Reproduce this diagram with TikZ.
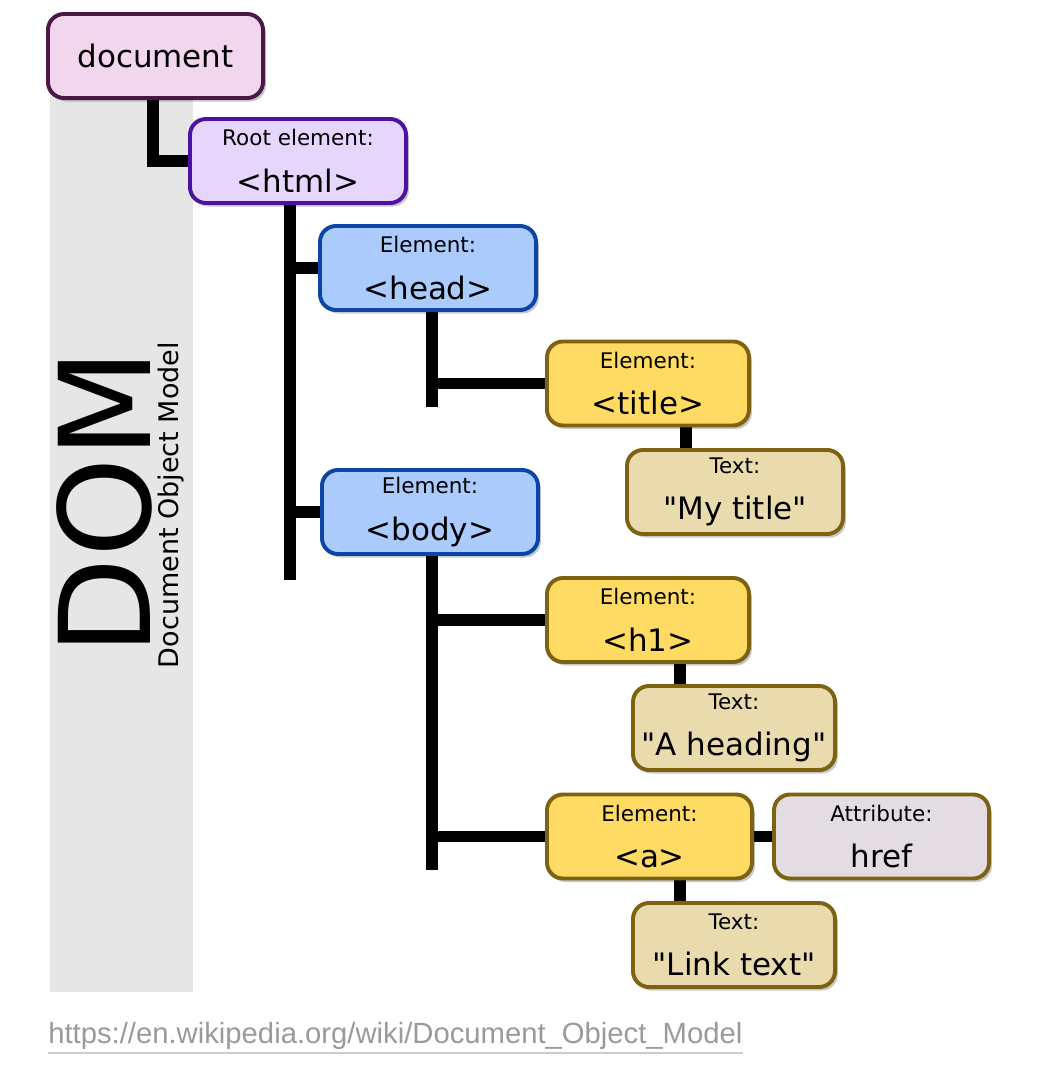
\documentclass[tikz,border=0pt]{standalone}
\usepackage{fontspec}
\setmainfont{DejaVu Sans}
\newfontfamily\urlfont{Liberation Sans}
\usetikzlibrary{positioning, shadows, backgrounds}
\definecolor{cdocfill}{HTML}{F2D6EE}
\definecolor{cdocline}{HTML}{4B1747}
\definecolor{crootfill}{HTML}{E6D6FE}
\definecolor{crootline}{HTML}{4D12A4}
\definecolor{cbluefill}{HTML}{AACBFB}
\definecolor{cblueline}{HTML}{0B46A6}
\definecolor{cyellow}{HTML}{FFDB63}
\definecolor{ctan}{HTML}{E9DBAE}
\definecolor{cattr}{HTML}{E3DCE3}
\definecolor{cbrown}{HTML}{7D6212}
\definecolor{cband}{HTML}{E6E6E6}
\definecolor{curl}{HTML}{9A9A9A}
\newcommand{\lbl}[1]{{\fontsize{15.3}{15.3}\selectfont #1}}
\tikzset{
  box/.style={rounded corners=0.4cm, line width=2.8pt, align=center, inner sep=0pt,
    minimum height=2.1cm, font=\fontsize{22}{33}\selectfont,
    drop shadow={shadow xshift=2pt, shadow yshift=-2.5pt, fill=black, opacity=0.22}},
  docbox/.style={box, draw=cdocline, fill=cdocfill, minimum width=5.375cm},
  rootbox/.style={box, draw=crootline, fill=crootfill, minimum width=5.4cm},
  bluebox/.style={box, draw=cblueline, fill=cbluefill, minimum width=5.4cm},
  elembox/.style={box, draw=cbrown, fill=cyellow, minimum width=5.05cm},
  txtbox/.style={box, draw=cbrown, fill=ctan, minimum width=5.05cm},
  attrbox/.style={box, draw=cbrown, fill=cattr, minimum width=5.375cm},
  link/.style={draw=black, line width=8.5pt},
}

\begin{document}
\begin{tikzpicture}[x=0.025cm, y=-0.025cm]
  \useasboundingbox (0,0) rectangle (1054,1076);
  % the tree
  \node[docbox] (doc) at (155.5,56) {document};
  \node[rootbox] (html) at (298,161) {\lbl{Root element:}\\<html>};
  \node[bluebox] (head) at (428,268) {\lbl{Element:}\\<head>};
  \node[bluebox] (body) at (430,512) {\lbl{Element:}\\<body>};
  \node[elembox] (title) at (648,383.5) {\lbl{Element:}\\<title>};
  \node[txtbox, minimum width=5.4cm] (mytitle) at (735,492) {\lbl{Text:}\\\textquotedbl My title\textquotedbl};
  \node[elembox] (h1) at (648,620) {\lbl{Element:}\\<h1>};
  \node[txtbox] (heading) at (734,728) {\lbl{Text:}\\\textquotedbl A heading\textquotedbl};
  \node[elembox, minimum width=5.125cm] (a) at (649.5,836.5) {\lbl{Element:}\\<a>};
  \node[attrbox] (href) at (881.5,836.5) {\lbl{Attribute:}\\href};
  \node[txtbox] (linktext) at (734,945) {\lbl{Text:}\\\textquotedbl Link text\textquotedbl};
  % side title
  \node[rotate=90, anchor=base, font=\fontsize{90}{90}\selectfont] (dom) at (150,502) {DOM};
  \node[rotate=90, anchor=base, font=\fontsize{19.2}{19.2}\selectfont] (dommodel) at (178,505) {Document Object Model};
  % source line
  \node[anchor=west, inner xsep=0pt, inner ysep=2pt, text=curl, font=\urlfont\fontsize{20.8}{20.8}\selectfont] (url) at (48,1036)
    {https://en.wikipedia.org/wiki/Document\_Object\_Model};
  \draw[draw=curl!50, line width=1.4pt] (url.south west) -- (url.south east);
  \coordinate (htmlend) at (290,580);
  \coordinate (headend) at (432,407);
  \coordinate (bodyend) at (432,870);
  \begin{scope}[on background layer]
    \fill[cband] (50,60) rectangle (193,992);
    \draw[link] (doc.south -| 153,0) |- (html.west);
    \draw[link] (html.south -| htmlend) -- (htmlend);
    \draw[link] (htmlend |- head.west) -- (head.west);
    \draw[link] (htmlend |- body.west) -- (body.west);
    \draw[link] (head.south -| headend) -- (headend);
    \draw[link] (headend |- title.west) -- (title.west);
    \draw[link] (title.south -| 686,0) -- (mytitle.north -| 686,0);
    \draw[link] (body.south -| bodyend) -- (bodyend);
    \draw[link] (bodyend |- h1.west) -- (h1.west);
    \draw[link] (bodyend |- a.west) -- (a.west);
    \draw[link] (h1.south -| 680,0) -- (heading.north -| 680,0);
    \draw[link] (a.east) -- (href.west);
    \draw[link] (a.south -| 680,0) -- (linktext.north -| 680,0);
  \end{scope}
\end{tikzpicture}
\end{document}
